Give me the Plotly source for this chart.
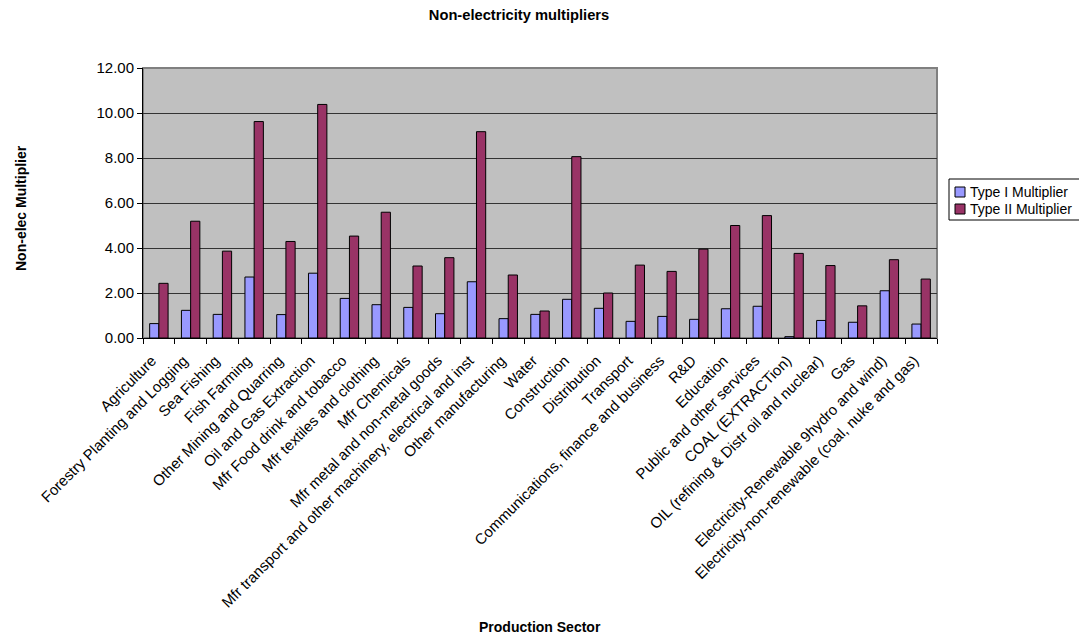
import plotly.graph_objects as go

categories = [
    "Agriculture", "Forestry Planting and Logging", "Sea Fishing", "Fish Farming",
    "Other Mining and Quarring", "Oil and Gas Extraction", "Mfr Food drink and tobacco",
    "Mfr textiles and clothing", "Mfr Chemicals", "Mfr metal and non-metal goods",
    "Mfr transport and other machinery, electrical and inst", "Other manufacturing",
    "Water", "Construction", "Distribution", "Transport",
    "Communications, finance and business", "R&D", "Education",
    "Public and other services", "COAL (EXTRACTion)", "OIL (refining & Distr oil and nuclear)",
    "Gas", "Electricity-Renewable 9hydro and wind)", "Electricity-non-renewable (coal, nuke and gas)",
]

type1 = [0.64, 1.23, 1.05, 2.71, 1.04, 2.88, 1.76, 1.48, 1.36, 1.08, 2.50, 0.86,
         1.05, 1.72, 1.32, 0.74, 0.96, 0.83, 1.30, 1.41, 0.06, 0.78, 0.70, 2.10, 0.62]
type2 = [2.43, 5.19, 3.86, 9.62, 4.29, 10.38, 4.53, 5.59, 3.20, 3.57, 9.17, 2.80,
         1.20, 8.06, 2.00, 3.24, 2.96, 3.95, 5.00, 5.44, 3.76, 3.22, 1.43, 3.48, 2.62]

series_names = ["Type I Multiplier", "Type II Multiplier"]
series_colors = ["#9999FF", "#993366"]

font = "Liberation Sans, Arial, sans-serif"

W, H = 1079, 639
L, R, T, B = 143, 142, 68, 301
pw, ph = W - L - R, H - T - B


def px_x(x):
    return (x - L) / pw


def px_y(y):
    return (H - B - y) / ph


fig = go.Figure()
for name, vals, col in zip(series_names, [type1, type2], series_colors):
    fig.add_trace(go.Bar(name=name, x=categories, y=vals,
                         marker=dict(color=col, line=dict(color="black", width=1))))

shapes = [dict(type="rect", xref="paper", yref="paper", x0=0, x1=1, y0=0, y1=1,
               line=dict(color="#808080", width=2), layer="below")]
annotations = [
    dict(text="<b>Non-elec Multiplier</b>", xref="paper", yref="paper",
         x=px_x(21), y=px_y(208), textangle=-90, showarrow=False,
         xanchor="center", yanchor="middle", font=dict(size=14)),
    dict(text="<b>Production Sector</b>", xref="paper", yref="paper",
         x=px_x(540), y=px_y(627), showarrow=False,
         xanchor="center", yanchor="middle", font=dict(size=14)),
]

# manual legend box (Excel style)
shapes.append(dict(type="rect", xref="paper", yref="paper",
                   x0=px_x(949), x1=px_x(1085), y0=px_y(179), y1=px_y(220),
                   line=dict(color="black", width=1), fillcolor="white"))
for i, (name, col) in enumerate(zip(series_names, series_colors)):
    cy = 192 + i * 17
    shapes.append(dict(type="rect", xref="paper", yref="paper",
                       x0=px_x(955), x1=px_x(965), y0=px_y(cy - 5), y1=px_y(cy + 5),
                       line=dict(color="black", width=1), fillcolor=col))
    annotations.append(dict(text=name, xref="paper", yref="paper",
                            x=px_x(968), y=px_y(cy), showarrow=False,
                            xanchor="left", yanchor="middle", font=dict(size=14)))

fig.update_layout(
    width=W, height=H,
    margin=dict(l=L, r=R, t=T, b=B, autoexpand=False),
    paper_bgcolor="white", plot_bgcolor="#C0C0C0",
    font=dict(family=font, size=15, color="black"),
    title=dict(text="<b>Non-electricity multipliers</b>", x=px_x(519), xref="paper",
               xanchor="center", y=1 - 15 / H, yanchor="middle", font=dict(size=14.7)),
    barmode="group", bargap=0.42, bargroupgap=0,
    showlegend=False,
    xaxis=dict(type="category", tickangle=-45, tickson="boundaries", ticks="outside",
               ticklen=5, tickcolor="black", showline=True, linecolor="black",
               linewidth=1, showgrid=False, tickfont=dict(size=15), automargin=False,
               ticklabelstandoff=7, ticklabelshift=-7),
    yaxis=dict(range=[0, 12], dtick=2, tickformat=".2f", ticks="outside", ticklen=5,
               tickcolor="black", showline=True, linecolor="black", linewidth=1,
               showgrid=True, gridcolor="#333333", gridwidth=1, zeroline=False,
               tickfont=dict(size=15), automargin=False),
    shapes=shapes,
    annotations=annotations,
)

fig.write_html("out.html", config={"displayModeBar": False},
               post_script="document.body.style.margin='0';")
